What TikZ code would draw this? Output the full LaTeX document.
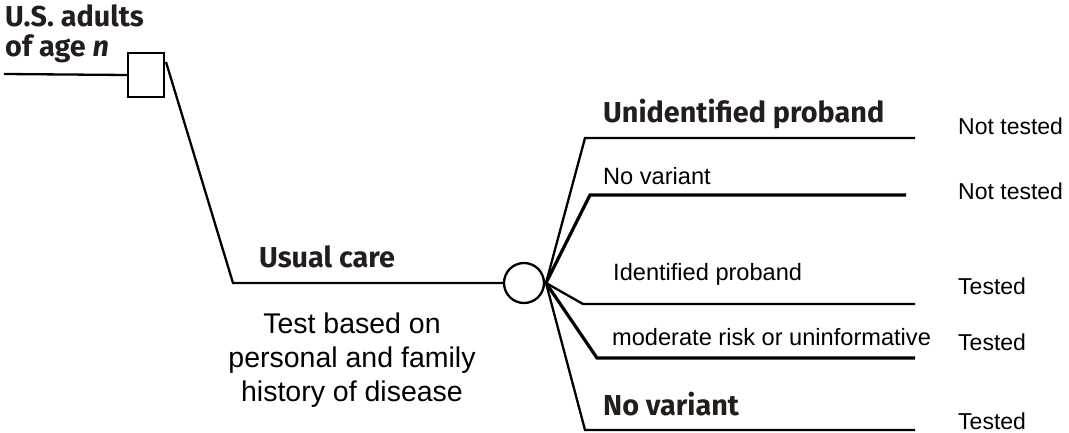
\documentclass[tikz,border=0pt]{standalone}
\usepackage{fontspec}
\setmainfont{Liberation Sans}
\newfontfamily\headfont{Fira Sans}
\definecolor{headcol}{RGB}{35,30,28}
\begin{document}
\begin{tikzpicture}[x=1pt,y=-1pt,
  branch/.style={line width=2.3pt,line join=miter},
  thickbranch/.style={line width=3.2pt,line join=miter},
  head/.style={anchor=base west,inner sep=0pt,text=headcol,font=\headfont\bfseries\fontsize{28.8}{34}\selectfont},
  lbl/.style={anchor=base west,inner sep=0pt,font=\fontsize{23.6}{28}\selectfont},
  outc/.style={anchor=base west,inner sep=0pt,font=\fontsize{23}{28}\selectfont}]
\useasboundingbox (0,0) rectangle (1069,433);
% decision and chance nodes
\node[draw,line width=2.3pt,minimum width=36pt,minimum height=44pt,inner sep=0pt] (sq) at (146,75) {};
\node[draw,circle,line width=2.3pt,minimum size=40pt,inner sep=0pt] (ch) at (524,283) {};
% coordinates
\coordinate (start) at (4,74);
\coordinate (s0) at (166,62);
\coordinate (uc) at (233,283);
\coordinate (hub) at (546,283);
\coordinate (b1a) at (585,138); \coordinate (b1b) at (915,138);
\coordinate (b2a) at (590,195); \coordinate (b2b) at (906,195);
\coordinate (b3a) at (583,304); \coordinate (b3b) at (915,304);
\coordinate (b4a) at (597,358); \coordinate (b4b) at (915,358);
\coordinate (b5a) at (585,430); \coordinate (b5b) at (915,430);
% connectors
\draw[branch] (start) -- (sq.west);
\draw[branch] (s0) -- (uc) -- (ch.west);
\draw[branch] (hub) -- (b1a) -- (b1b);
\draw[thickbranch] (hub) -- (b2a) -- (b2b);
\draw[branch] (hub) -- (b3a) -- (b3b);
\draw[thickbranch] (hub) -- (b4a) -- (b4b);
\draw[branch] (hub) -- (b5a) -- (b5b);
% headings
\node[head] (t1) at (5,27) {U.S. adults};
\node[head] (t2) at (5,57) {of age \textit{n}};
\node[head] (t3) at (259,267) {Usual care};
\node[head] (t4) at (603,123) {Unidentified proband};
\node[head] (t5) at (603,415) {No variant};
% branch labels
\node[lbl] (l2) at (603,185) {No variant};
\node[lbl] (l3) at (613,280) {Identified proband};
\node[lbl] (l4) at (612,345) {moderate risk or uninformative};
% outcomes
\node[outc] (o1) at (958,135) {Not tested};
\node[outc] (o2) at (958,200) {Not tested};
\node[outc] (o3) at (958,294) {Tested};
\node[outc] (o4) at (958,350) {Tested};
\node[outc] (o5) at (958,429) {Tested};
% description
\node[align=center,inner sep=0pt,anchor=north,font=\fontsize{28.5}{34}\selectfont] (desc) at (352,313) {Test based on\\personal and family\\history of disease};
\end{tikzpicture}
\end{document}
